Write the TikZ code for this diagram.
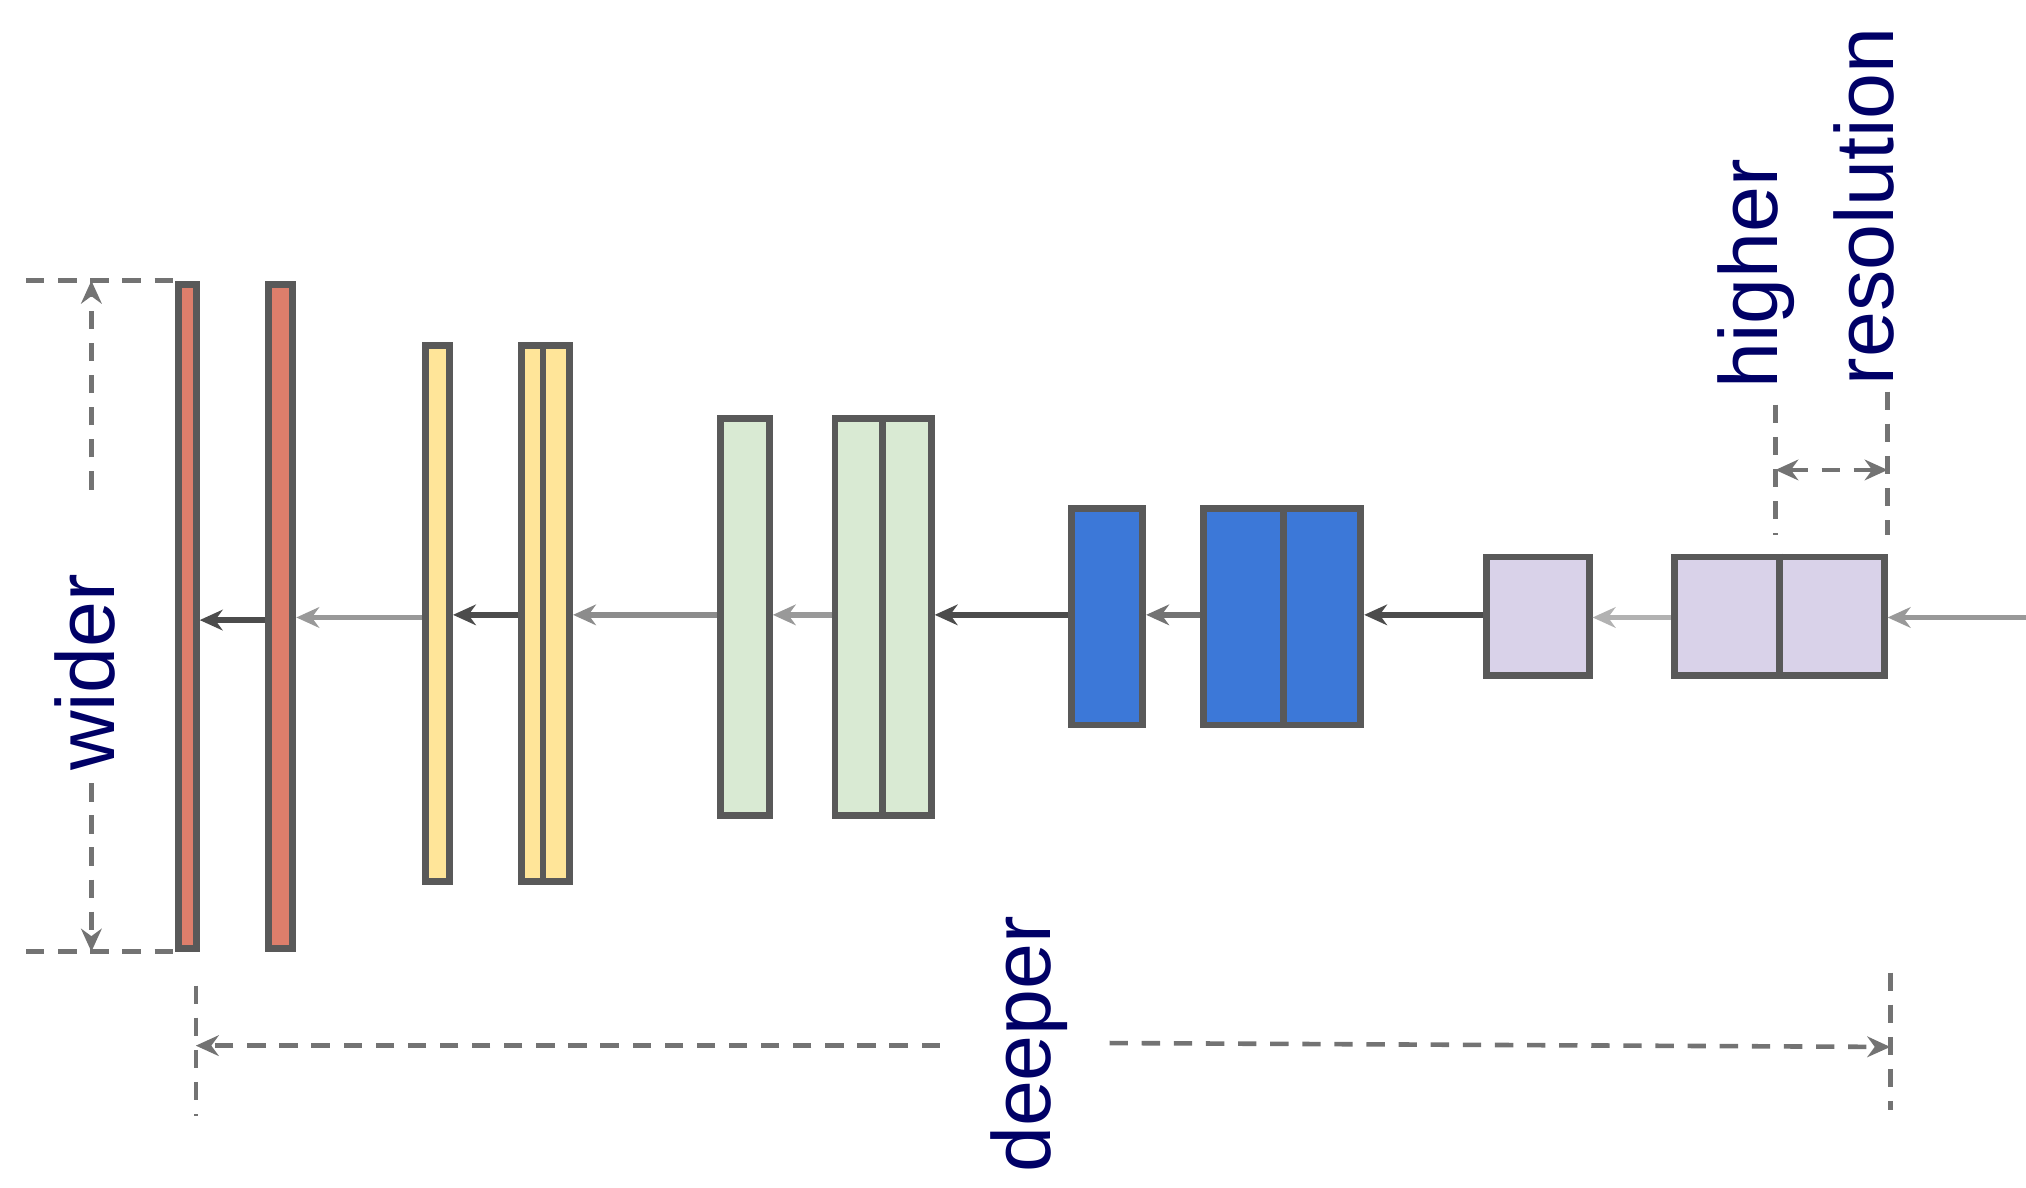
\documentclass[tikz,border=0pt]{standalone}
\usepackage{fontspec}
\setmainfont{Liberation Sans}
\usetikzlibrary{arrows.meta}
\begin{document}
\begin{tikzpicture}[x=0.02cm,y=-0.02cm,
  blk/.style={draw=black!65,line width=3pt,inner sep=0,anchor=north west},
  lnk/.style={line width=2.5pt,-{Stealth[length=10pt,width=9pt]}},
  dim/.style={draw=black!55,line width=2pt,dash pattern=on 8pt off 6pt},
  lab/.style={font=\fontsize{36}{40}\selectfont,text=blue!40!black,rotate=90,inner sep=0}]
\useasboundingbox (0,0) rectangle (1552,910);
\definecolor{cr}{HTML}{DD7E6B}\definecolor{cy}{HTML}{FFE599}\definecolor{cg}{HTML}{D9EAD3}
\definecolor{cb}{HTML}{3C78D8}\definecolor{cp}{HTML}{D9D2E9}
\newcommand{\blk}[6]{\node[blk,fill=#6,minimum width=#4*0.02cm-3pt,minimum height=#5*0.02cm-3pt] (#1) at (#2,#3) {};}
\blk{r1}{134}{215}{19}{514}{cr}
\blk{r2}{203}{215}{24}{514}{cr}
\blk{y1}{323}{262}{24}{416}{cy}
\blk{y2}{397}{262}{42}{416}{cy}
\blk{g1}{549}{318}{43}{309}{cg}
\blk{g2}{637}{318}{79}{309}{cg}
\blk{b1}{818}{387}{60}{171}{cb}
\blk{b2}{919}{387}{126}{171}{cb}
\blk{p1}{1136}{424}{84}{96}{cp}
\blk{p2}{1280}{424}{166}{96}{cp}
\draw[blk] (416,262)--(416,678);
\draw[blk] (676,318)--(676,627);
\draw[blk] (983,387)--(983,558);
\draw[blk] (1363,424)--(1363,520);
\coordinate (e) at (1552,473);
\draw[lnk,black!40] (e) -- (p2.east|-e);
\draw[lnk,black!30] (p2.west|-e) -- (p1.east|-e);
\draw[lnk,black!70] (p1.west|-0,471) -- (b2.east|-0,471);
\draw[lnk,black!55] (b2.west|-0,471) -- (b1.east|-0,471);
\draw[lnk,black!70] (b1.west|-0,471) -- (g2.east|-0,471);
\draw[lnk,black!40] (g2.west|-0,471) -- (g1.east|-0,471);
\draw[lnk,black!45] (g1.west|-0,471) -- (y2.east|-0,471);
\draw[lnk,black!70] (y2.west|-0,471) -- (y1.east|-0,471);
\draw[lnk,black!40] (y1.west|-0,473) -- (r2.east|-0,473);
\draw[lnk,black!70] (r2.west|-0,475) -- (r1.east|-0,475);
% wider
\draw[dim] (20,215)--(134,215); \draw[dim] (20,729)--(134,729);
\coordinate (wt) at (70,215); \coordinate (wb) at (70,729);
\draw[dim,-{Stealth[length=10pt,width=9pt]}] (70,375)--(wt);
\draw[dim,-{Stealth[length=10pt,width=9pt]}] (70,600)--(wb);
\node[lab] (wider) at (65,515) {wider};
% deeper
\draw[dim] (150,755)--(150,855); \draw[dim] (1448,745)--(1448,850);
\coordinate (dl) at (150,801); \coordinate (dr) at (1448,802);
\draw[dim,-{Stealth[length=10pt,width=9pt]}] (720,801)--(dl);
\draw[dim,-{Stealth[length=10pt,width=9pt]}] (850,799)--(dr);
\node[lab] (deeper) at (788,800) {deeper};
% resolution
\draw[dim] (1360,310)--(1360,410); \draw[dim] (1446,300)--(1446,410);
\coordinate (hl) at (1360,360); \coordinate (hr) at (1446,360);
\draw[dim,{Stealth[length=10pt,width=9pt]}-{Stealth[length=10pt,width=9pt]}] (hl)--(hr);
\node[lab] (higher) at (1345,210) {higher};
\node[lab] (res) at (1428,158) {resolution};
\end{tikzpicture}
\end{document}
